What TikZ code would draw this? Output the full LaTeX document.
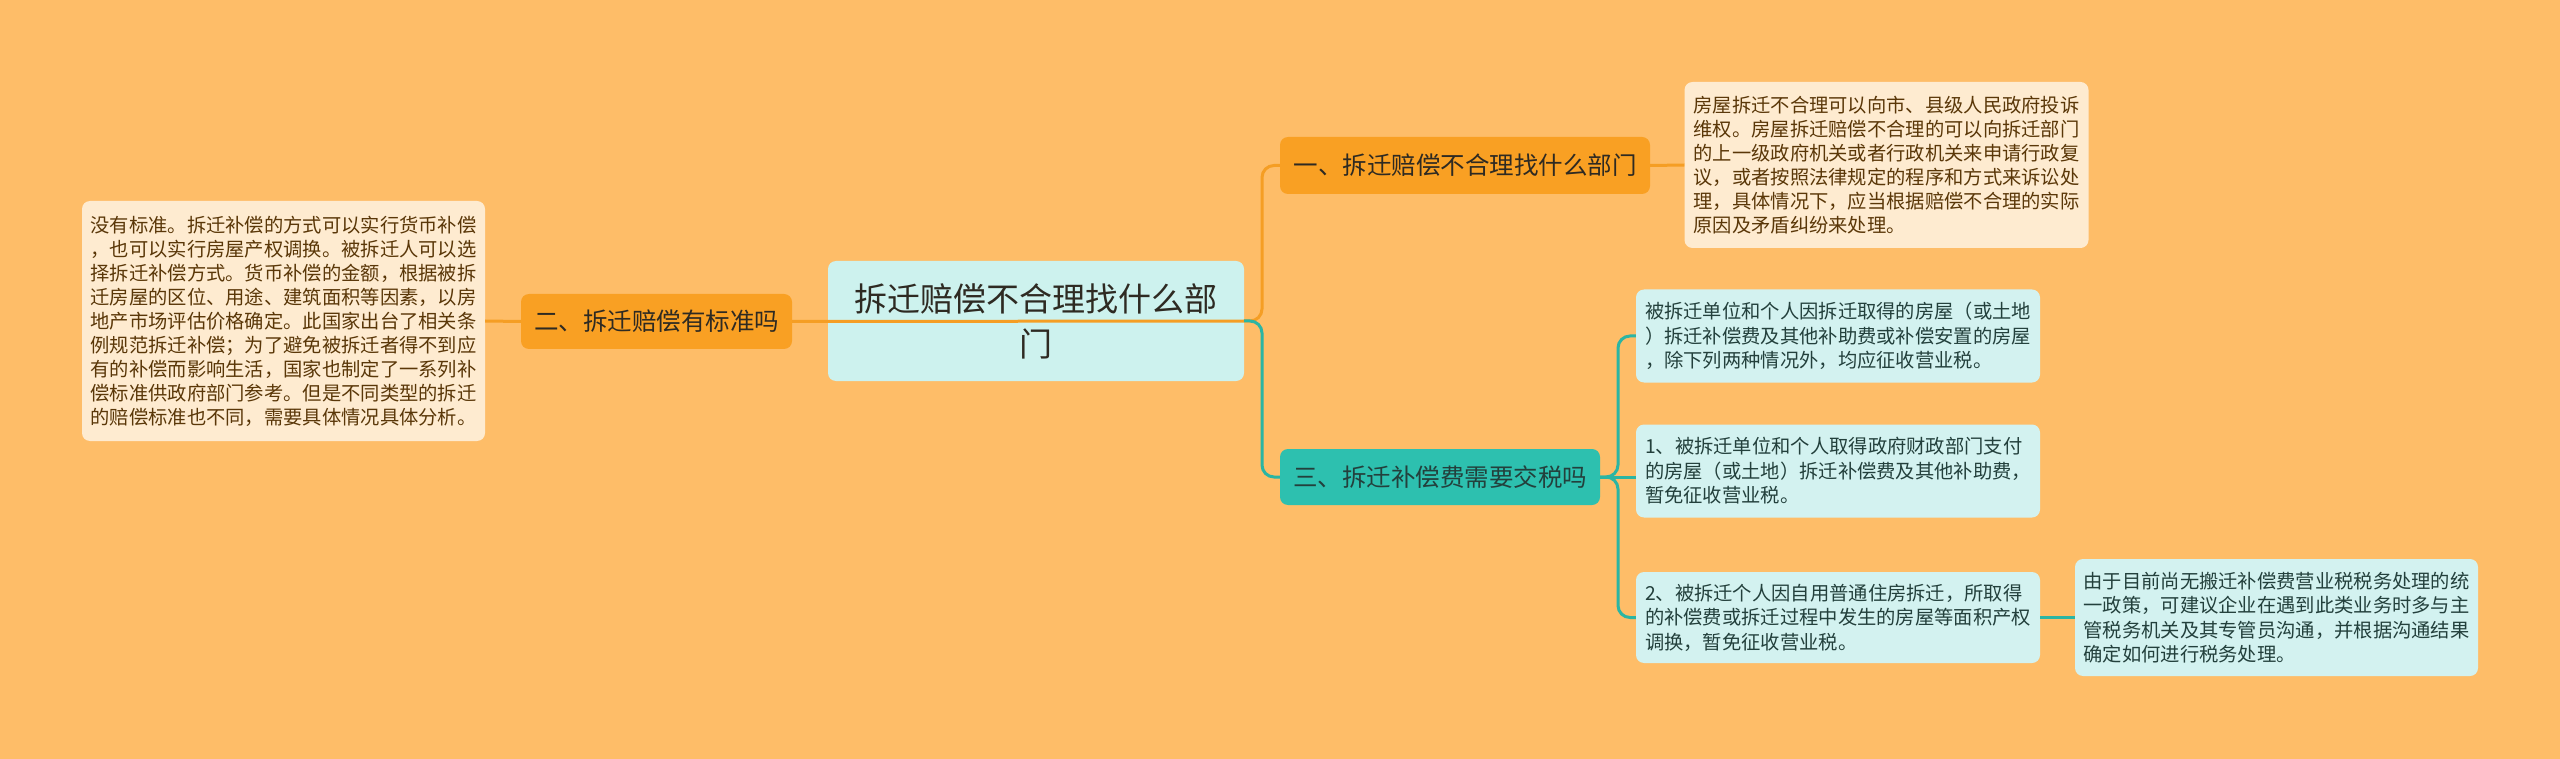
\documentclass[tikz,border=0pt]{standalone}
\usepackage{fontspec}
\setmainfont{Noto Sans CJK SC}
\usetikzlibrary{calc}
\definecolor{bgc}{HTML}{FEBD68}
\definecolor{orangefill}{HTML}{F9A023}
\definecolor{orangeline}{HTML}{F59E24}
\definecolor{tealfill}{HTML}{2DC0AF}
\definecolor{tealline}{HTML}{2BB5A3}
\definecolor{rootfill}{HTML}{CDF2EE}
\definecolor{creamfill}{HTML}{FEEBD0}
\definecolor{cyanfill}{HTML}{D3F2F0}
\definecolor{browntext}{HTML}{5A3708}
\definecolor{darktext}{HTML}{2E2A22}
\definecolor{tealtext}{HTML}{23403C}
\tikzset{
  box/.style={rounded corners=8pt, inner sep=0pt, draw=none},
  rootbox/.style={box, fill=rootfill, text=darktext, align=center,
    font=\fontsize{33pt}{45pt}\selectfont},
  obranch/.style={box, fill=orangefill, text=darktext,
    font=\fontsize{24.5pt}{30pt}\selectfont},
  tbranch/.style={box, fill=tealfill, text=tealtext,
    font=\fontsize{24.5pt}{30pt}\selectfont},
  cleaf/.style={box, fill=creamfill, text=browntext, align=left,
    font=\fontsize{19.3pt}{24pt}\selectfont},
  tleaf/.style={box, fill=cyanfill, text=tealtext, align=left,
    font=\fontsize{19.3pt}{24.5pt}\selectfont},
  oline/.style={draw=orangeline, line width=3pt, rounded corners=12pt},
  tline/.style={draw=tealline, line width=3pt, rounded corners=12pt}
}
\begin{document}
\begin{tikzpicture}[x=1pt,y=-1pt]
\fill[bgc] (0,0) rectangle (2560,759);
\useasboundingbox (0,0) rectangle (2560,759);
% coordinates for junctions
\coordinate (j1) at (1262,321);
\coordinate (j3) at (1618,477);
% nodes
\node[rootbox, minimum width=416pt, minimum height=120pt] (root) at (1036,321)
  {拆迁赔偿不合理找什么部\\门};
\node[obranch, minimum width=370pt, minimum height=57pt] (b1) at (1465,165.5)
  {一、拆迁赔偿不合理找什么部门};
\node[obranch, minimum width=271pt, minimum height=55pt] (b2) at (656.5,321.5)
  {二、拆迁赔偿有标准吗};
\node[tbranch, minimum width=320pt, minimum height=56pt] (b3) at (1440,477)
  {三、拆迁补偿费需要交税吗};
\node[cleaf, minimum width=404pt, minimum height=166pt] (l1) at (1886.5,165)
  {房屋拆迁不合理可以向市、县级人民政府投诉\\
   维权。房屋拆迁赔偿不合理的可以向拆迁部门\\
   的上一级政府机关或者行政机关来申请行政复\\
   议，或者按照法律规定的程序和方式来诉讼处\\
   理，具体情况下，应当根据赔偿不合理的实际\\
   原因及矛盾纠纷来处理。};
\node[cleaf, minimum width=403pt, minimum height=240pt] (l2) at (283.5,321)
  {没有标准。拆迁补偿的方式可以实行货币补偿\\
   ，也可以实行房屋产权调换。被拆迁人可以选\\
   择拆迁补偿方式。货币补偿的金额，根据被拆\\
   迁房屋的区位、用途、建筑面积等因素，以房\\
   地产市场评估价格确定。此国家出台了相关条\\
   例规范拆迁补偿；为了避免被拆迁者得不到应\\
   有的补偿而影响生活，国家也制定了一系列补\\
   偿标准供政府部门参考。但是不同类型的拆迁\\
   的赔偿标准也不同，需要具体情况具体分析。};
\node[tleaf, minimum width=404pt, minimum height=93pt] (l3a) at (1838,336)
  {被拆迁单位和个人因拆迁取得的房屋（或土地\\
   ）拆迁补偿费及其他补助费或补偿安置的房屋\\
   ，除下列两种情况外，均应征收营业税。};
\node[tleaf, minimum width=404pt, minimum height=93pt] (l3b) at (1838,471)
  {1、被拆迁单位和个人取得政府财政部门支付\\
   的房屋（或土地）拆迁补偿费及其他补助费，\\
   暂免征收营业税。};
\node[tleaf, minimum width=404pt, minimum height=91pt] (l3c) at (1838,617.5)
  {2、被拆迁个人因自用普通住房拆迁，所取得\\
   的补偿费或拆迁过程中发生的房屋等面积产权\\
   调换，暂免征收营业税。};
\node[tleaf, minimum width=403pt, minimum height=117pt] (l3d) at (2276.5,617.5)
  {由于目前尚无搬迁补偿费营业税税务处理的统\\
   一政策，可建议企业在遇到此类业务时多与主\\
   管税务机关及其专管员沟通，并根据沟通结果\\
   确定如何进行税务处理。};
% connectors
\draw[oline] (l2.east) -- (b2.west);
\draw[oline] (b2.east) -- (root.east);
\draw[oline] (root.east) -- (j1) |- (b1.west);
\draw[oline] (b1.east) -- (l1.west);
\draw[tline] (root.east) -- (j1) |- (b3.west);
\draw[tline] (b3.east) -- (j3) |- (l3a.west);
\draw[tline] (b3.east) -- (l3b.west |- b3.east);
\draw[tline] (b3.east) -- (j3) |- (l3c.west);
\draw[tline] (l3c.east) -- (l3d.west);
\end{tikzpicture}
\end{document}
